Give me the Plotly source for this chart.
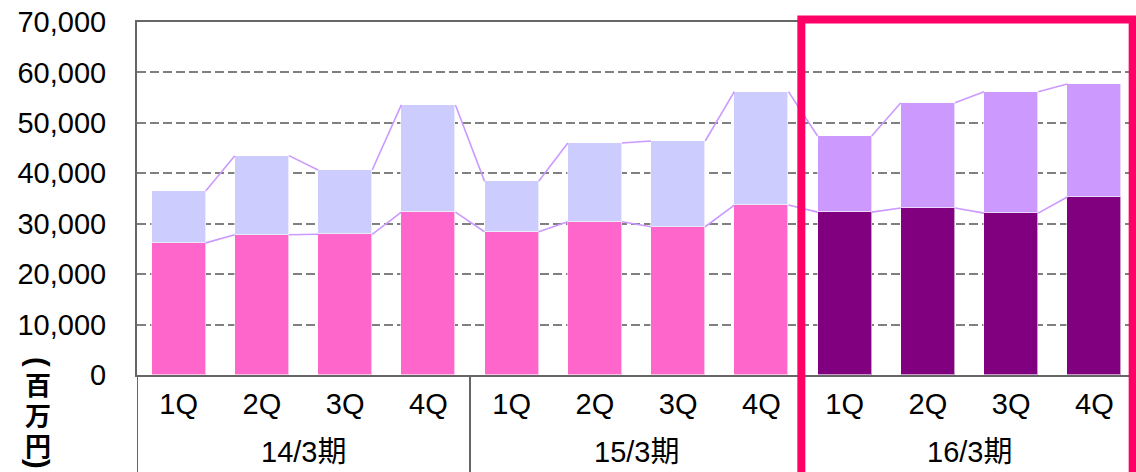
import plotly.graph_objects as go

# Quarterly figures (millions of yen)
periods = ["14/3期", "15/3期", "16/3期"]
quarters = ["1Q", "2Q", "3Q", "4Q"]
lower_vals = [26200, 27800, 27900, 32300,
              28400, 30400, 29400, 33700,
              32300, 33100, 32100, 35300]
totals = [36500, 43500, 40650, 53550,
          38400, 46000, 46400, 56200,
          47400, 54000, 56150, 57700]
upper_vals = [t - b for t, b in zip(totals, lower_vals)]

y_ticks = [0, 10000, 20000, 30000, 40000, 50000, 60000, 70000]
y_tick_text = ["0", "10,000", "20,000", "30,000", "40,000", "50,000", "60,000", "70,000"]
unit_chars = ["(", "百", "万", "円", ")"]

n = len(lower_vals)
xs = list(range(n))
tick_text = quarters * len(periods)
BAR_W = 0.65

past_low, past_up = "#FF66CC", "#CCCCFF"
cur_low, cur_up = "#800080", "#CC99FF"
low_colors = [past_low] * 8 + [cur_low] * 4
up_colors = [past_up] * 8 + [cur_up] * 4

FONT = "Liberation Sans, Arial, Noto Sans CJK JP, sans-serif"
FS = 29

fig = go.Figure()


def connectors(vals):
    """Segments joining the top-right corner of one bar to the top-left of the next."""
    lx, ly = [], []
    for i in range(n - 1):
        lx += [xs[i] + BAR_W / 2, xs[i + 1] - BAR_W / 2, None]
        ly += [vals[i], vals[i + 1], None]
    return lx, ly


for vals in (lower_vals, totals):
    lx, ly = connectors(vals)
    fig.add_trace(go.Scatter(x=lx, y=ly, mode="lines",
                             line=dict(color="#CC99FF", width=1.6),
                             hoverinfo="skip", showlegend=False))

fig.add_trace(go.Bar(x=xs, y=lower_vals, width=BAR_W,
                     marker=dict(color=low_colors, line=dict(color="rgba(255,255,255,0.6)", width=1)),
                     showlegend=False))
fig.add_trace(go.Bar(x=xs, y=upper_vals, width=BAR_W,
                     marker=dict(color=up_colors, line=dict(color="rgba(255,255,255,0.6)", width=1)),
                     showlegend=False))

shapes = []
# group dividers below the axis
for xv in (-0.5, 3.5, 7.5):
    shapes.append(dict(type="line", xref="x", yref="paper", x0=xv, x1=xv,
                       y0=0, y1=-0.4, line=dict(color="#666666", width=2)))
# highlight frame around the current fiscal year
shapes.append(dict(type="rect", xref="x", yref="paper", x0=7.48, x1=11.46,
                   y0=-0.4, y1=1.007, line=dict(color="#FF0066", width=8),
                   fillcolor="rgba(0,0,0,0)"))

annotations = []
for gi, p in enumerate(periods):
    annotations.append(dict(x=gi * 4 + 1.5, xref="x", y=-0.218, yref="paper",
                            text=p, showarrow=False, yanchor="middle",
                            font=dict(family=FONT, size=FS, color="#000000")))

# vertical unit label, one glyph per line; brackets turned for vertical writing
unit_y_px = [362, 383, 414, 444, 464]
for ch, ypx in zip(unit_chars, unit_y_px):
    is_bracket = ch in "()"
    annotations.append(dict(x=(38 - 137) / 999, xref="paper", y=(375 - ypx) / 353, yref="paper",
                            text=f"<b>{ch}</b>", showarrow=False,
                            textangle=90 if is_bracket else 0,
                            xanchor="center", yanchor="middle",
                            font=dict(family="Liberation Sans" if is_bracket else "Noto Sans CJK JP",
                                      size=29 if is_bracket else 26, color="#000000")))

fig.update_layout(
    width=1136, height=472,
    margin=dict(l=137, r=0, t=22, b=97),
    paper_bgcolor="white", plot_bgcolor="white",
    barmode="stack", bargap=0,
    shapes=shapes, annotations=annotations,
    font=dict(family=FONT, size=FS, color="#000000"),
    xaxis=dict(range=[-0.5, 11.5], tickmode="array", tickvals=xs, ticktext=tick_text,
               showgrid=False, showline=True, linecolor="#666666", linewidth=2,
               mirror=True, ticks="", ticklabelstandoff=2,
               tickfont=dict(family=FONT, size=FS)),
    yaxis=dict(range=[0, 70000], tickmode="array", tickvals=y_ticks, ticktext=y_tick_text,
               showgrid=True, gridcolor="#808080", gridwidth=2, griddash="9px,4px",
               showline=True, linecolor="#666666", linewidth=2, zeroline=False,
               ticks="", ticklabelstandoff=23,
               tickfont=dict(family=FONT, size=FS)),
)

fig.write_html("out.html")
